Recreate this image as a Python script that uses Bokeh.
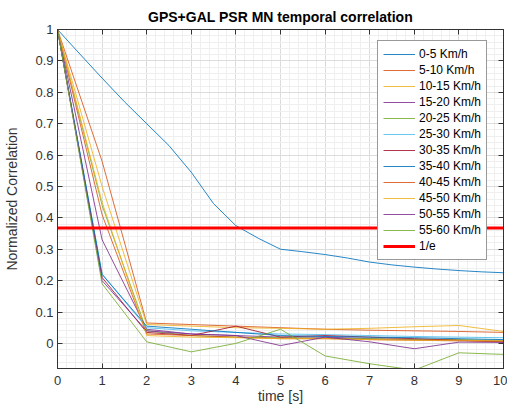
import numpy as np
from bokeh.plotting import figure
from bokeh.models import (LinearAxis, FixedTicker, NumeralTickFormatter, Range1d,
                          Legend, LegendItem)
from bokeh.embed import file_html
from bokeh.resources import INLINE

# ---------------- data ----------------
t_fine = [0, 0.5, 1.0, 1.5, 2.0, 2.5, 3.0, 3.5, 4.0, 4.5, 5.0, 5.5, 6.0, 6.5, 7.0,
          7.5, 8.0, 8.5, 9.0, 9.5, 10.0]
s_0_5 = [1.0, 0.922, 0.845, 0.77, 0.70, 0.63, 0.545, 0.445, 0.375, 0.335, 0.300,
         0.292, 0.283, 0.272, 0.259, 0.250, 0.243, 0.237, 0.232, 0.228, 0.225]

t = [0, 1, 2, 3, 4, 5, 6, 7, 8, 9, 10]
s_5_10 = [1.0, 0.58, 0.065, 0.060, 0.055, 0.050, 0.045, 0.042, 0.040, 0.038, 0.035]
s_10_15 = [1.0, 0.50, 0.060, 0.055, 0.050, 0.048, 0.045, 0.048, 0.053, 0.057, 0.038]
s_15_20 = [1.0, 0.33, 0.045, 0.030, 0.025, 0.020, 0.020, 0.015, 0.012, 0.010, 0.008]
s_20_25 = [1.0, 0.44, 0.040, 0.025, 0.020, 0.018, 0.016, 0.015, 0.013, 0.012, 0.010]
s_25_30 = [1.0, 0.22, 0.050, 0.040, 0.035, 0.030, 0.028, 0.025, 0.022, 0.020, 0.018]
s_30_35 = [1.0, 0.21, 0.035, 0.025, 0.055, 0.020, 0.025, 0.020, 0.015, 0.010, 0.005]
s_35_40 = [1.0, 0.22, 0.055, 0.045, 0.035, 0.025, 0.022, 0.020, 0.018, 0.015, 0.012]
s_40_45 = [1.0, 0.41, 0.030, 0.025, 0.020, 0.015, 0.015, 0.012, 0.010, 0.008, 0.005]
s_45_50 = [1.0, 0.45, 0.025, 0.020, 0.018, 0.015, 0.015, 0.012, 0.010, 0.010, 0.008]
s_50_55 = [1.0, 0.20, 0.040, 0.030, 0.025, -0.007, 0.020, 0.005, -0.017, 0.004, 0.003]
s_55_60 = [1.0, 0.19, 0.005, -0.027, 0.000, 0.045, -0.040, -0.065, -0.085, -0.030, -0.035]

labels = ["0-5 Km/h", "5-10 Km/h", "10-15 Km/h", "15-20 Km/h", "20-25 Km/h",
          "25-30 Km/h", "30-35 Km/h", "35-40 Km/h", "40-45 Km/h", "45-50 Km/h",
          "50-55 Km/h", "55-60 Km/h"]
threshold = float(np.exp(-1))
threshold_label = "1/e"

x_ticks = [0, 1, 2, 3, 4, 5, 6, 7, 8, 9, 10]
y_ticks = [0, 0.1, 0.2, 0.3, 0.4, 0.5, 0.6, 0.7, 0.8, 0.9, 1]

# ---------------- styling ----------------
colors = ["#0072BD", "#D95319", "#EDB120", "#7E2F8E", "#77AC30", "#4DBEEE", "#A2142F"]
FONT = "Liberation Sans"
AX = "#333333"

p = figure(frame_width=446, frame_height=339, output_backend="svg",
           toolbar_location=None, x_range=Range1d(0, 10), y_range=Range1d(-0.08, 1),
           min_border_left=57, min_border_top=29, min_border_right=4,
           min_border_bottom=30)
p.title.text = "GPS+GAL PSR MN temporal correlation"
p.title.align = "center"
p.title.text_font = FONT
p.title.text_font_size = "14px"
p.title.text_font_style = "bold"
p.title.text_color = "#000000"
p.title.standoff = 10
p.outline_line_color = AX
p.outline_line_width = 1
p.background_fill_color = "white"
p.border_fill_color = "white"

xt = FixedTicker(ticks=x_ticks, minor_ticks=list(np.round(np.arange(0, 10.01, 0.2), 2)))
yt = FixedTicker(ticks=y_ticks, minor_ticks=list(np.round(np.arange(-0.08, 1.001, 0.02), 2)))

def style_axis(ax, ticker, fmt, show_labels=True):
    ax.ticker = ticker
    ax.formatter = NumeralTickFormatter(format=fmt)
    ax.major_tick_in = 5
    ax.major_tick_out = 0
    ax.minor_tick_in = 0
    ax.minor_tick_out = 0
    ax.axis_line_color = AX
    ax.major_tick_line_color = AX
    ax.major_label_text_font = FONT
    ax.major_label_text_color = AX
    ax.major_label_text_font_size = "13px"
    ax.axis_label_text_font = FONT
    ax.axis_label_text_font_style = "normal"
    ax.axis_label_text_color = AX
    ax.axis_label_text_font_size = "14px"
    if not show_labels:
        ax.major_label_overrides = {v: "" for v in ticker.ticks}
        ax.major_label_standoff = 0
        ax.major_label_text_font_size = "2px"

style_axis(p.xaxis[0], xt, "0")
style_axis(p.yaxis[0], yt, "0.[0]")
p.xaxis[0].axis_label = "time [s]"
p.yaxis[0].axis_label = "Normalized Correlation"
p.xaxis[0].major_label_standoff = 7
p.yaxis[0].major_label_standoff = 4
p.xaxis[0].axis_label_standoff = 0
p.yaxis[0].axis_label_standoff = 12

top_ax = LinearAxis()
right_ax = LinearAxis()
style_axis(top_ax, xt, "0", show_labels=False)
style_axis(right_ax, yt, "0.[0]", show_labels=False)
p.add_layout(top_ax, "above")
p.add_layout(right_ax, "right")

for g in (p.xgrid[0], p.ygrid[0]):
    g.grid_line_color = "#dcdcdc"
    g.minor_grid_line_color = "#efefef"
p.xgrid[0].ticker = xt
p.ygrid[0].ticker = yt

series = [(t_fine, s_0_5), (t, s_5_10), (t, s_10_15), (t, s_15_20), (t, s_20_25),
          (t, s_25_30), (t, s_30_35), (t, s_35_40), (t, s_40_45), (t, s_45_50),
          (t, s_50_55), (t, s_55_60)]

items = []
for i, ((xs, ys), lab) in enumerate(zip(series, labels)):
    r = p.line(xs, ys, line_color=colors[i % 7], line_width=1, line_alpha=0.85)
    items.append(LegendItem(label=lab, renderers=[r]))

r_th = p.line([t[0], t[-1]], [threshold, threshold], line_color="#FF0000", line_width=3)
items.append(LegendItem(label=threshold_label, renderers=[r_th]))

legend = Legend(items=items, location=(320, 108))
legend.label_text_font = FONT
legend.label_text_font_size = "12px"
legend.label_text_color = "#000000"
legend.glyph_width = 32
legend.glyph_height = 16
legend.label_height = 16
legend.spacing = 0
legend.padding = 5
legend.margin = 0
legend.label_standoff = 4
legend.border_line_color = AX
legend.border_line_width = 1
legend.background_fill_color = "white"
legend.background_fill_alpha = 1
p.add_layout(legend, "center")

open("out.html", "w").write(file_html(p, INLINE))
